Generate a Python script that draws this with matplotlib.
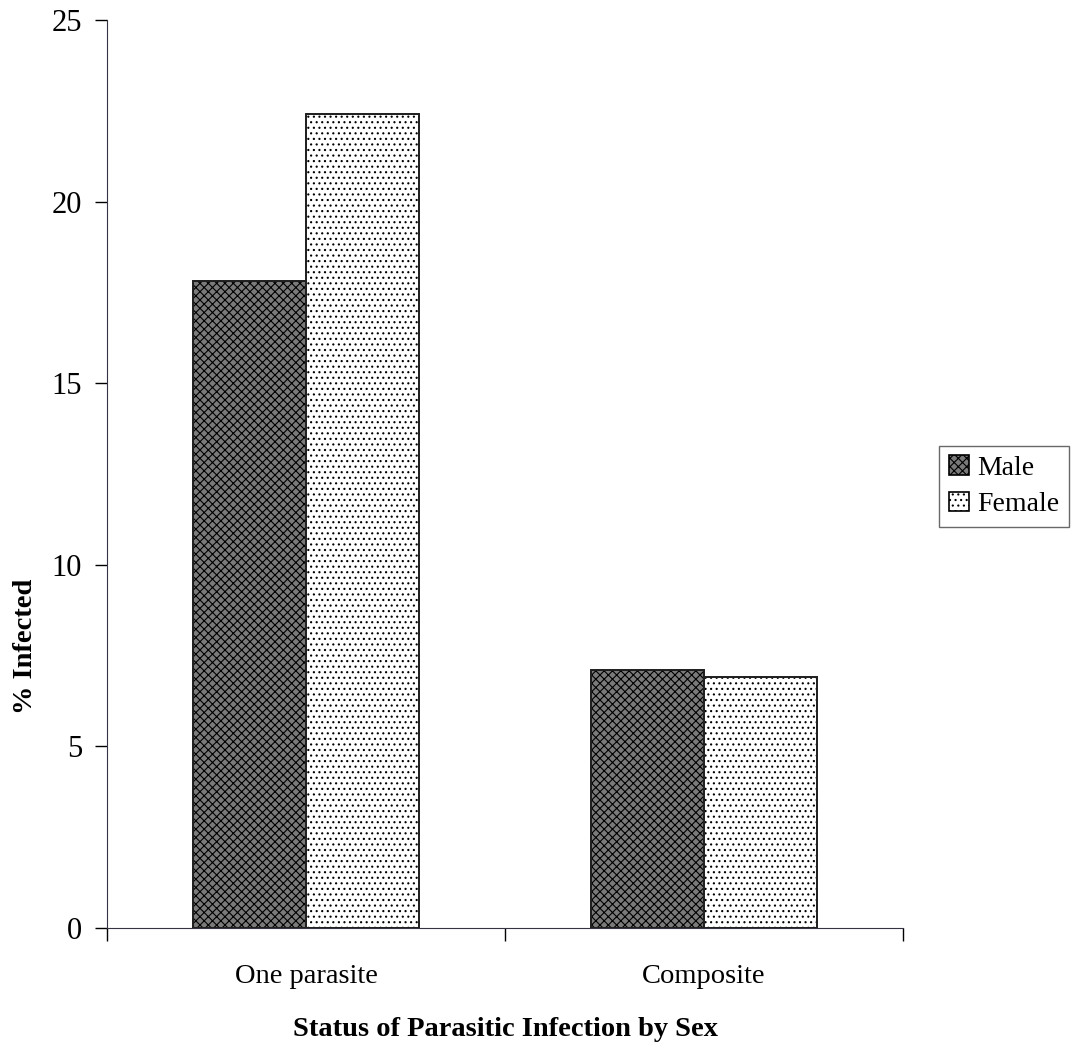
import numpy as np
import matplotlib
matplotlib.use("Agg")
import matplotlib.pyplot as plt

# --- data
categories = ["One parasite", "Composite"]
male = [17.8, 7.1]
female = [22.4, 6.9]

plt.rcParams["font.family"] = ["Liberation Serif", "DejaVu Serif"]
plt.rcParams["hatch.linewidth"] = 0.8

fig = plt.figure(figsize=(10.75, 10.48), dpi=100)
ax = fig.add_axes([0.0995, 0.1145, 0.7405, 0.8665])

x = np.arange(len(categories))
w = 0.285
ax.bar(x - w / 2, male, w, facecolor="#7a7a7a", edgecolor="black",
       hatch="xxxx", linewidth=1.2, label="Male")
ax.bar(x + w / 2, female, w, facecolor="white", edgecolor="black",
       hatch="...", linewidth=1.2, label="Female")
# hatch picks up the edge colour, so redraw a dark outline on top
ax.bar(x - w / 2, male, w, facecolor="none", edgecolor="#222222", linewidth=1.3)
ax.bar(x + w / 2, female, w, facecolor="none", edgecolor="#222222", linewidth=1.3)

ax.set_xlim(-0.5, 1.5)
ax.set_ylim(0, 25)
ax.set_yticks([0, 5, 10, 15, 20, 25])
ax.set_xticks(x)
ax.set_xticklabels(categories)
ax.set_xticks([-0.5, 0.5, 1.5], minor=True)
ax.tick_params(axis="x", which="major", length=0, pad=26, labelsize=20.5)
ax.tick_params(axis="x", which="minor", length=9, width=1, direction="out")
ax.tick_params(axis="y", length=9, width=1, direction="out", pad=9, labelsize=22)

for s in ["top", "right"]:
    ax.spines[s].set_visible(False)
ax.spines["left"].set_color("#333344")
ax.spines["bottom"].set_color("#333344")

ax.set_ylabel("% Infected", fontsize=20.5, fontweight="bold")
ax.yaxis.set_label_coords(-0.087, 0.31)
ax.set_xlabel("Status of Parasitic Infection by Sex", fontsize=20.5,
              fontweight="bold", labelpad=20)

leg = fig.legend(loc="center", bbox_to_anchor=(0.934, 0.536), fontsize=20,
                 frameon=True, fancybox=False, handlelength=0.7,
                 handleheight=0.7, handletextpad=0.3, borderpad=0.35,
                 labelspacing=0.4)
leg.get_frame().set_edgecolor("#444444")
leg.get_frame().set_linewidth(1.0)

fig.savefig("out.png", dpi=100)
